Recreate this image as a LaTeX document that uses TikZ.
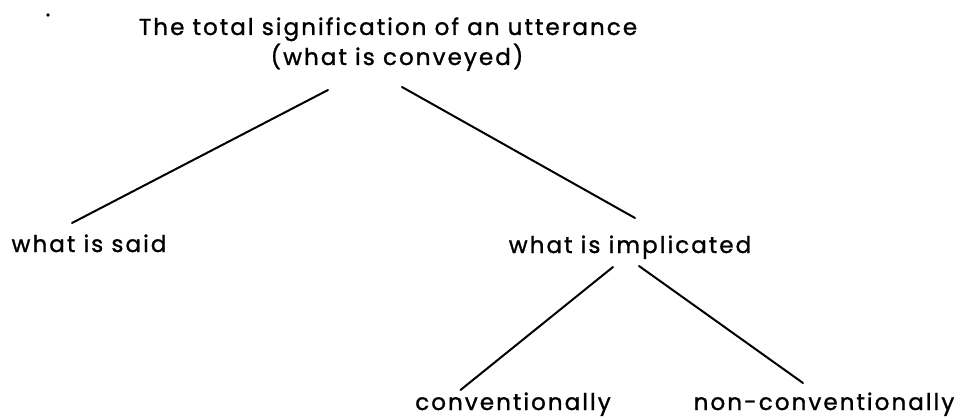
\documentclass[tikz,border=0pt]{standalone}
\usepackage{fontspec}
\setmainfont{Poppins}[LetterSpace=9,FakeBold=1.2]
\usetikzlibrary{calc}
\begin{document}
\begin{tikzpicture}[x=1pt,y=-1pt,
  lbl/.style={inner sep=0pt,anchor=base,font=\fontsize{23}{27}\selectfont},
  edge/.style={line width=2pt,line cap=round}]
\useasboundingbox (0,0) rectangle (956,417);
\fill[white] (0,0) rectangle (956,417);
\fill (48,15) circle (1.8);
\node[lbl] (title1) at (388,35) {The total signification of an utterance};
\node[lbl] (title2) at (397,65) {(what is conveyed)};
\node[lbl] (said) at (89,252) {what is said};
\node[lbl] (impl) at (630,253) {what is implicated};
\node[lbl] (conv) at (513,410) {conventionally};
\node[lbl] (nonconv) at (824,410) {non-conventionally};
\draw[edge] ([shift={(-69,25)}]title2.base) -- ([shift={(-17,-29)}]said.base);
\draw[edge] ([shift={(5,22)}]title2.base) -- ([shift={(5,-35)}]impl.base);
\draw[edge] ([shift={(-17,14)}]impl.base) -- ([shift={(-52.5,-20)}]conv.base);
\draw[edge] ([shift={(9,13)}]impl.base) -- ([shift={(-21,-27)}]nonconv.base);
\end{tikzpicture}
\end{document}
